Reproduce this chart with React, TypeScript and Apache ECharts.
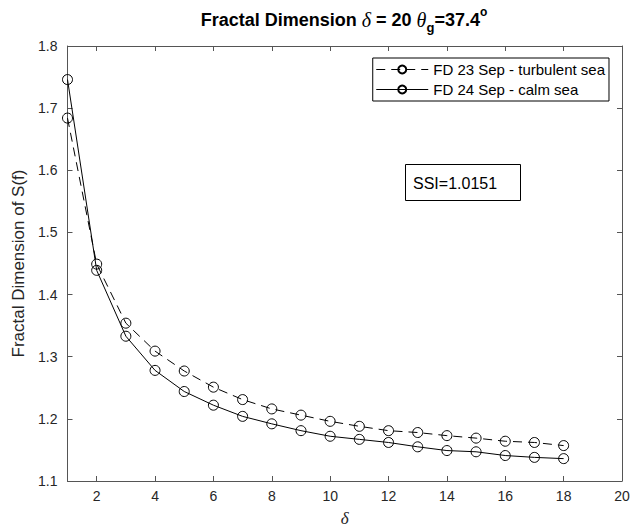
import React, { useEffect, useRef } from "react";
import * as echarts from "echarts";

const deltas = [1, 2, 3, 4, 5, 6, 7, 8, 9, 10, 11, 12, 13, 14, 15, 16, 17, 18];
const turbulent = [1.684, 1.449, 1.354, 1.309, 1.277, 1.251, 1.231, 1.216, 1.206, 1.196, 1.188, 1.181, 1.178, 1.173, 1.169, 1.164, 1.162, 1.157];
const calm = [1.746, 1.439, 1.333, 1.278, 1.244, 1.222, 1.204, 1.192, 1.181, 1.172, 1.167, 1.162, 1.155, 1.149, 1.147, 1.141, 1.138, 1.136];
const xTicks = [2, 4, 6, 8, 10, 12, 14, 16, 18, 20];
const seriesNames = ["FD 23 Sep - turbulent sea", "FD 24 Sep - calm sea"];
const ssiText = "SSI=1.0151";

export default function App() {
  const ref = useRef<HTMLDivElement>(null);
  useEffect(() => {
    const chart = echarts.init(ref.current!, null, { renderer: "svg" });
    const font = "'Liberation Sans', Arial, Helvetica, sans-serif";
    const serif = "'Liberation Serif', 'Times New Roman', serif";
    const axisColor = "#555555";
    const labelColor = "#262626";
    const baseAxis = {
      axisLine: { show: true, onZero: false, lineStyle: { color: axisColor, width: 1 } },
      splitLine: { show: false },
    };
    chart.setOption({
      animation: false,
      backgroundColor: "#ffffff",
      textStyle: { fontFamily: font },
      grid: { left: 67.5, right: 11, top: 46, bottom: 50, show: false },
      xAxis: [
        {
          ...baseAxis,
          type: "value",
          min: 1,
          max: 20,
          position: "bottom",
          axisTick: { show: true, inside: true, length: 5, customValues: xTicks, lineStyle: { color: axisColor } },
          axisLabel: { customValues: xTicks, color: labelColor, fontSize: 14, margin: 8, fontFamily: font },
          name: "δ",
          nameLocation: "middle",
          nameGap: 29,
          nameTextStyle: { fontFamily: serif, fontStyle: "italic", fontSize: 17, color: labelColor },
        },
        {
          ...baseAxis,
          type: "value",
          min: 1,
          max: 20,
          position: "top",
          axisTick: { show: true, inside: true, length: 5, customValues: xTicks, lineStyle: { color: axisColor } },
          axisLabel: { show: false },
        },
      ],
      yAxis: [
        {
          ...baseAxis,
          type: "value",
          min: 1.1,
          max: 1.8,
          interval: 0.1,
          position: "left",
          axisTick: { show: true, inside: true, length: 5, lineStyle: { color: axisColor } },
          axisLabel: {
            color: labelColor,
            fontSize: 14,
            margin: 10,
            fontFamily: font,
            formatter: (v: number) => v.toFixed(1),
          },
          name: "Fractal Dimension of S(f)",
          nameLocation: "middle",
          nameGap: 38,
          nameTextStyle: { fontFamily: font, fontSize: 17, color: labelColor },
        },
        {
          ...baseAxis,
          type: "value",
          min: 1.1,
          max: 1.8,
          interval: 0.1,
          position: "right",
          axisTick: { show: true, inside: true, length: 5, lineStyle: { color: axisColor } },
          axisLabel: { show: false },
        },
      ],
      legend: {
        data: seriesNames,
        orient: "vertical",
        right: 24,
        top: 58,
        itemWidth: 52,
        itemHeight: 10,
        itemGap: 5,
        padding: [4, 4, 4, 3],
        backgroundColor: "#ffffff",
        borderColor: "#000000",
        borderWidth: 1,
        borderRadius: 0,
        lineStyle: { width: 1 },
        textStyle: { fontSize: 15, color: "#000000", fontFamily: font },
      },
      graphic: [
        {
          type: "text",
          x: 344,
          y: 20,
          style: {
            text: "{b|Fractal Dimension }{i|δ}{b| = 20 }{i|θ}{sub|g}{b|=37.4}{sup|o}",
            align: "center",
            verticalAlign: "middle",
            fill: "#000",
            rich: {
              b: { fontFamily: font, fontWeight: "bold", fontSize: 18, fill: "#000", lineHeight: 28 },
              i: { fontFamily: serif, fontStyle: "italic", fontSize: 20, fill: "#000", lineHeight: 28 },
              sub: { fontFamily: font, fontWeight: "bold", fontSize: 13, fill: "#000", lineHeight: 13, verticalAlign: "bottom" },
              sup: { fontFamily: font, fontWeight: "bold", fontSize: 12, fill: "#000", lineHeight: 12, verticalAlign: "top" },
            },
          },
        },
        {
          type: "rect",
          shape: { x: 405.5, y: 164.5, width: 115, height: 36 },
          style: { fill: "#ffffff", stroke: "#000000", lineWidth: 1 },
        },
        {
          type: "text",
          x: 413,
          y: 183,
          style: { text: ssiText, font: `16px ${font}`, fill: "#000", verticalAlign: "middle", align: "left" },
        },
      ],
      series: [
        {
          name: seriesNames[0],
          type: "line",
          xAxisIndex: 0,
          yAxisIndex: 0,
          data: deltas.map((d, i) => [d, turbulent[i]]),
          symbol: "circle",
          symbolSize: 10,
          lineStyle: { color: "#000", width: 1, type: [9, 6] },
          itemStyle: { color: "rgba(255,255,255,0)", borderColor: "#000", borderWidth: 1 },
          emphasis: { disabled: true },
        },
        {
          name: seriesNames[1],
          type: "line",
          xAxisIndex: 0,
          yAxisIndex: 0,
          data: deltas.map((d, i) => [d, calm[i]]),
          symbol: "circle",
          symbolSize: 10,
          lineStyle: { color: "#000", width: 1, type: "solid" },
          itemStyle: { color: "rgba(255,255,255,0)", borderColor: "#000", borderWidth: 1 },
          emphasis: { disabled: true },
        },
      ],
    });
    return () => chart.dispose();
  }, []);
  return <div ref={ref} style={{ width: 633, height: 532, position: "absolute", left: 0, top: 0 }} />;
}
